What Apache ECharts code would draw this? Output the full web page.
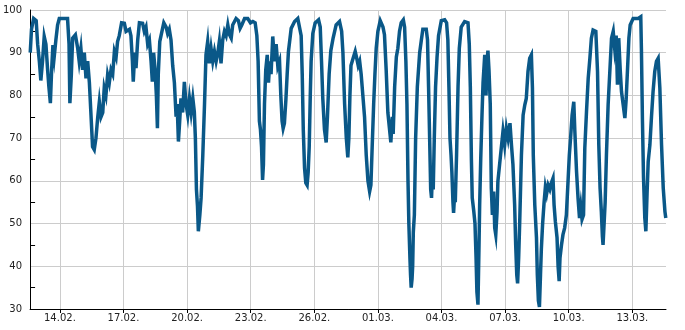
<!DOCTYPE html>
<html><head><meta charset="utf-8">
<script src="https://cdn.jsdelivr.net/npm/echarts@6/dist/echarts.min.js"></script>
<style>html,body{margin:0;padding:0;background:#fff}#c{width:685px;height:330px}</style>
</head><body><div id="c"></div>
<script>
// x = days since 1 Feb 00:00 (non-leap year)
const days = [
11.60,11.66,11.76,11.88,11.95,12.03,12.10,12.18,12.26,12.34,12.42,12.48,12.55,12.61,12.67,12.73,12.81,12.89,12.97,13.21,13.36,13.43,13.47,13.54,13.60,13.73,13.84,13.91,13.99,14.07,14.15,14.23,14.31,14.39,14.46,14.54,14.62,14.70,14.78,14.86,14.94,15.02,15.09,15.17,15.25,15.33,15.41,15.49,15.57,15.65,15.72,
15.80,15.91,16.04,16.12,16.28,16.35,16.42,16.46,16.53,16.59,16.67,16.75,16.90,16.98,17.06,17.14,17.22,17.30,17.36,17.42,17.49,17.55,17.60,17.64,17.71,17.77,17.90,18.01,18.08,18.16,18.24,18.32,18.40,18.48,18.53,18.59,18.65,18.71,18.79,18.87,18.95,19.03,19.11,19.19,19.27,19.34,19.39,19.44,19.49,19.53,19.60,19.66,19.74,19.82,19.89,19.97,
20.05,20.13,20.21,20.29,20.37,20.45,20.52,20.60,20.68,20.76,20.84,20.92,21.00,21.08,21.15,21.31,21.42,21.50,21.58,21.71,21.86,21.99,22.10,22.21,22.29,22.35,22.41,22.46,22.51,22.56,22.60,22.65,22.71,22.78,22.84,22.90,22.96,23.04,23.12,23.20,23.28,23.36,23.42,23.48,23.53,23.59,23.66,23.72,23.78,23.91,24.07,24.22,
24.30,24.38,24.43,24.48,24.54,24.60,24.66,24.71,24.76,24.81,24.85,24.93,25.04,25.20,25.28,25.34,25.40,25.48,25.56,25.62,25.70,25.78,25.89,26.03,26.19,26.29,26.35,26.43,26.51,26.58,26.63,26.68,26.73,26.82,26.93,27.01,27.07,27.14,27.21,27.29,27.37,27.45,27.53,27.61,27.67,27.73,27.80,27.86,27.92,28.00,28.11,28.24,28.31,28.39,28.47,
28.55,28.61,28.68,28.72,28.79,28.87,28.94,29.02,29.10,29.20,29.26,29.32,29.37,29.42,29.46,29.51,29.54,29.57,29.61,29.64,29.67,29.72,29.78,29.86,29.97,30.05,30.12,30.28,30.34,30.39,30.44,30.49,30.53,30.58,30.61,30.66,30.72,30.79,30.86,30.99,31.15,31.24,31.30,31.35,31.40,31.45,31.49,31.54,31.57,31.62,31.65,31.71,31.78,31.84,31.93,32.09,32.25,32.31,32.36,32.41,32.45,32.52,32.58,32.63,32.67,32.72,
32.77,32.80,32.85,32.91,32.96,33.04,33.10,33.15,33.19,33.24,33.30,33.35,33.40,33.46,33.51,33.56,33.62,33.66,33.74,33.82,33.90,33.98,34.06,34.14,34.23,34.30,34.37,34.45,34.50,34.55,34.59,34.64,34.69,34.77,34.85,34.93,35.00,35.08,35.16,35.24,35.29,35.33,35.40,35.48,35.52,35.57,35.62,35.67,35.71,35.77,35.84,35.90,35.96,36.03,36.11,36.18,36.26,36.31,36.37,36.45,36.50,36.55,36.59,36.66,36.73,36.81,36.89,36.97,
37.03,37.10,37.16,37.24,37.29,37.37,37.44,37.51,37.57,37.63,37.70,37.76,37.84,37.92,38.00,38.07,38.15,38.28,38.36,38.42,38.48,38.54,38.59,38.62,38.67,38.72,38.78,38.86,38.94,39.02,39.10,39.17,39.24,39.30,39.36,39.43,39.49,39.57,39.65,39.71,39.77,39.84,39.90,40.04,40.28,40.40,40.43,40.48,40.53,40.59,40.64,40.70,40.75,40.83,40.91,40.98,41.06,41.14,41.22,41.30,41.38,41.46,41.54,41.58
];
const values = [
90,95.5,98,97.5,92,88,83.5,88,93.8,92,86,82,78.2,86,91.8,89,93,96.5,98,98,98,92,78.2,85,93.4,94.2,91,88,91,86,90,84,88,83,76,68,67.3,70,74.7,78.5,75,76,81.7,80,84.8,83,86,85,90.3,89,92.6,
94,97,96.9,95,95.5,94,88,83.2,90,86.4,93,97,96.9,95,96,92,93,88,83.2,90,86,80,72.3,85,92.6,94,97,96,94.5,95.5,93,87,83,75,78,69.2,74,79.3,76,83.2,78,75.4,79.3,76,79.3,76.2,70,58,54,48.2,52,56,66,77.8,89.5,92.6,
87.5,91,88,90.3,88,90,92.6,87.5,93,95,94,96.5,94.2,93.4,96.5,98,97.5,95.7,96.5,98,98,97,97.3,97,94,88,74,72,68,60.2,63.8,78,86,89.5,83,88,85,93.8,88,92,86.8,88,80,74,72.3,73.5,79,85,90.3,95.7,97.3,98,
98,94,85,72,63,59.5,59,62,68,80,88,94.5,97,97.7,96,88,79.3,72,69,75,85,90.5,93.5,96.5,97.3,95,90,78,70,65.5,70,80,87,88.5,90.3,88.5,87,88,85,80,75,66,60,57.5,59,68,78,85,91,95,97.5,96,94.2,86,76,
72,69,75,71,82,89,91,95,97,97.7,96,88,78,60,50,42,38,35,37,40,48,52,70,82,90,93,95.5,95.5,93,82,70,58,56,63,58,70,82,89,94,97.5,97.7,97,93,82,70,66,62,55,52.5,57,55,66,82,91,96,97.3,97,92,82,65,56,53,50,42,34,31,
45,54.4,65,75.4,83,89.5,80,88,90.5,86,78,58.3,52,57.5,49,47.4,52.8,59.9,63.8,67.7,71.6,68.4,72.3,70,73.5,68.4,63.8,54.4,45,38,36,42,50.5,66,75.4,77.8,79.3,85.6,88.7,89.5,81.7,66,54.4,46.7,38,32,30.5,38,44,50,55,58.5,57,59,58,59.5,60.6,54.4,50.5,46.7,40,36.5,42,45,47.4,49,52,60,
66,70.8,75.4,78.5,71.6,62.2,56,51.3,54,51,52,67.7,76.2,84,88.7,93.4,95.3,95,85.6,68.4,58.3,52.8,47,45,50,55,66,77.8,85.6,93.4,95,91,94,82.5,93.4,86,80.9,77.8,74.7,79,85.6,93.4,96.5,98,98,98.4,91,73.9,60.6,51.3,48.2,57.5,64.5,68.4,75.4,80.9,85.6,88,88.7,81.7,68.4,58.3,52.8,51.3
];
const xTickDays = [13,16,19,22,25,28,31,34,37,40];
const xMin = 11.593, xMax = 41.59;
const yMin = 30, yMax = 100, yStep = 10;

function pad(n){ return (n<10?'0':'')+n; }
function dayLabel(d){
  let dom = Math.round(d) + 1, mon = 2;
  if (dom > 28) { dom -= 28; mon = 3; }
  return pad(dom) + '.' + pad(mon) + '.';
}
const n = Math.min(days.length, values.length);
const data = [];
for (let i = 0; i < n; i++) data.push([days[i], values[i]]);

const chart = echarts.init(document.getElementById('c'), null, {renderer:'canvas'});
const font = 'DejaVu Sans';
chart.setOption({
  animation: false,
  backgroundColor: '#ffffff',
  grid: {left: 30, right: 19, top: 10, bottom: 21, containLabel: false},
  xAxis: {
    type: 'value', min: xMin, max: xMax,
    axisLine: {show: true, lineStyle: {color: '#000', width: 1}},
    axisTick: {show: true, inside: false, length: 4, customValues: xTickDays, lineStyle: {color: '#000'}},
    axisLabel: {customValues: xTickDays, formatter: dayLabel, color: '#222', fontFamily: font, fontSize: 10, margin: 4},
    splitLine: {show: true, lineStyle: {color: '#cccccc', width: 1}}
  },
  yAxis: {
    type: 'value', min: yMin, max: yMax, interval: yStep,
    axisLine: {show: true, lineStyle: {color: '#000', width: 1}},
    axisTick: {show: false, inside: true},
    minorTick: {show: true, splitNumber: 2, length: 5, lineStyle: {color: '#000', width: 1}},
    axisLabel: {color: '#222', fontFamily: font, fontSize: 10, margin: 8},
    splitLine: {show: true, lineStyle: {color: '#cccccc', width: 1}}
  },
  series: [{
    type: 'line', data: data, showSymbol: false, symbol: 'none',
    lineStyle: {color: '#0a5888', width: 3.5, join: 'miter'},
    clip: true
  }]
});
</script>
</body></html>
